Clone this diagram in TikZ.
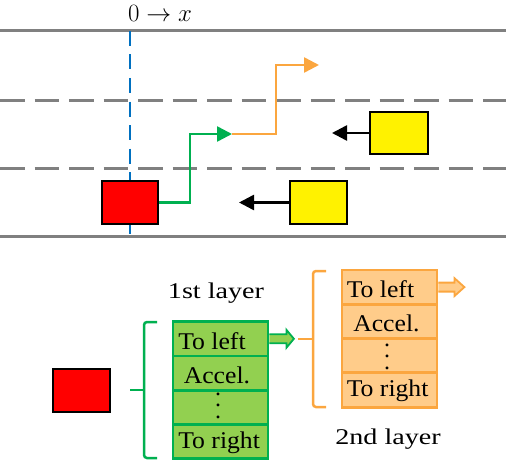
\documentclass[tikz,border=0pt]{standalone}
\usepackage{fontspec}
\newfontfamily\tnr{Liberation Serif}
\usetikzlibrary{arrows.meta,calc}
\definecolor{road}{HTML}{808080}
\definecolor{axisblue}{HTML}{0070C0}
\definecolor{dgreen}{HTML}{00B050}
\definecolor{lgreen}{HTML}{92D050}
\definecolor{dorange}{HTML}{FBA63F}
\definecolor{lorange}{HTML}{FFCC8A}
\newcommand{\celltxt}[1]{\scalebox{1.07}[1]{#1}}
\newcommand{\labtxt}[1]{\scalebox{1.25}[1]{#1}}
\begin{document}
\begin{tikzpicture}[x=1pt,y=-1pt,
  lane/.style={draw=road,line width=3pt},
  lanedash/.style={draw=road,line width=3pt,dash pattern=on 24.5pt off 10pt},
  car/.style={draw=black,line width=1.5pt,inner sep=0pt,minimum width=56pt,minimum height=43pt},
  move/.style={line width=2.5pt,-{Triangle[length=15pt,width=15pt]}},
  gcell/.style={draw=dgreen,fill=lgreen,line width=2.8pt,minimum width=95pt,minimum height=34.2pt,inner sep=0pt},
  ocell/.style={draw=dorange,fill=lorange,line width=2.8pt,minimum width=95pt,minimum height=34.3pt,inner sep=0pt},
  ctext/.style={anchor=west,inner sep=0pt,font=\tnr\fontsize{24}{28}\selectfont},
  dotx/.style={inner sep=0pt,align=center,font=\tnr\fontsize{24}{11.5}\selectfont},
  lbl/.style={inner sep=0pt,font=\tnr\fontsize{22.5}{27}\selectfont},
  brace/.style={line width=2.5pt,rounded corners=3pt},
  fat/.style={line width=1.8pt}
]
\useasboundingbox (0,0) rectangle (506,460);

% road
\draw[lane] (0,31) -- (506,31);
\draw[lane] (0,236) -- (506,236);
\draw[lanedash] (0,100) -- (506,100);
\draw[lanedash] (0,168) -- (506,168);
\draw[axisblue,line width=2.2pt,dash pattern=on 15pt off 8.5pt] (130,31) -- (130,236);
\node[inner sep=0pt,font=\fontsize{26}{30}\selectfont] (axis) at (160,13.5) {$0\rightarrow x$};

% cars
\node[car,fill=red] (ego) at (130,202.5) {};
\node[car,fill=yellow,minimum width=58pt,minimum height=42pt] (y1) at (399,133) {};
\node[car,fill=yellow,minimum width=57pt] (y2) at (318.5,202.5) {};

\coordinate (y1t) at (332,133);
\coordinate (y2t) at (239,202.5);
\draw[move,black] (y1.west) -- (y1t);
\draw[move,black] (y2.west) -- (y2t);

\coordinate (gturn) at (190,134);
\coordinate (mid) at (232,134);
\coordinate (oturn) at (276,65);
\coordinate (otip) at (319,65);
\draw[move,dgreen] (ego.east) -| (gturn) -- (mid);
\draw[move,dorange] (mid) -| (oturn) -- (otip);

% bottom part
\node[car,fill=red,minimum width=57pt] (ego2) at (81.5,390.5) {};

\node[gcell] (g1) at (220.5,338.8) {};
\node[gcell] (g2) at (220.5,373.0) {};
\node[gcell] (g3) at (220.5,407.2) {};
\node[gcell] (g4) at (220.5,441.4) {};
\node[ctext] (gt1) at ([xshift=6.5pt,yshift=-2pt]g1.west) {\celltxt{To left}};
\node[ctext] (gt2) at ([xshift=12pt,yshift=-2pt]g2.west) {\celltxt{Accel.}};
\node[dotx] (gd) at (218,405.5) {.\\.\\.};
\node[ctext] (gt4) at ([xshift=6.5pt,yshift=-1pt]g4.west) {\celltxt{To right}};

\node[ocell] (o1) at (389.5,287.1) {};
\node[ocell] (o2) at (389.5,321.4) {};
\node[ocell] (o3) at (389.5,355.7) {};
\node[ocell] (o4) at (389.5,390.0) {};
\node[ctext] (ot1) at ([xshift=6pt,yshift=-2pt]o1.west) {\celltxt{To left}};
\node[ctext] (ot2) at ([xshift=12.5pt,yshift=-2pt]o2.west) {\celltxt{Accel.}};
\node[dotx] (od) at (387,356.5) {.\\.\\.};
\node[ctext] (ot4) at ([xshift=6pt,yshift=-1pt]o4.west) {\celltxt{To right}};

\node[lbl] (l1) at (216,293.5) {\labtxt{1st layer}};
\node[lbl] (l2) at (388,439) {\labtxt{2nd layer}};

% braces
\draw[brace,dgreen] (157,322) -- (144,322) -- (144,458) -- (157,458);
\draw[dgreen,line width=2.5pt] (130,390) -- (144,390);
\draw[brace,dorange] (326,271) -- (313,271) -- (313,407) -- (326,407);
\draw[dorange,line width=2.5pt] (298,339) -- (313,339);

% fat arrows
\draw[fat,draw=dgreen,fill=lgreen,line join=miter] (g1.east) ++(0,-4.5) -- ++(17,0) -- ++(0,-4.5) -- ++(7.5,9) -- ++(-7.5,9) -- ++(0,-4.5) -- ++(-17,0);
\draw[fat,draw=dorange,fill=lorange,line join=miter] (o1.east) ++(0,-4.5) -- ++(16,0) -- ++(0,-4.5) -- ++(10,9) -- ++(-10,9) -- ++(0,-4.5) -- ++(-16,0);
\end{tikzpicture}
\end{document}
